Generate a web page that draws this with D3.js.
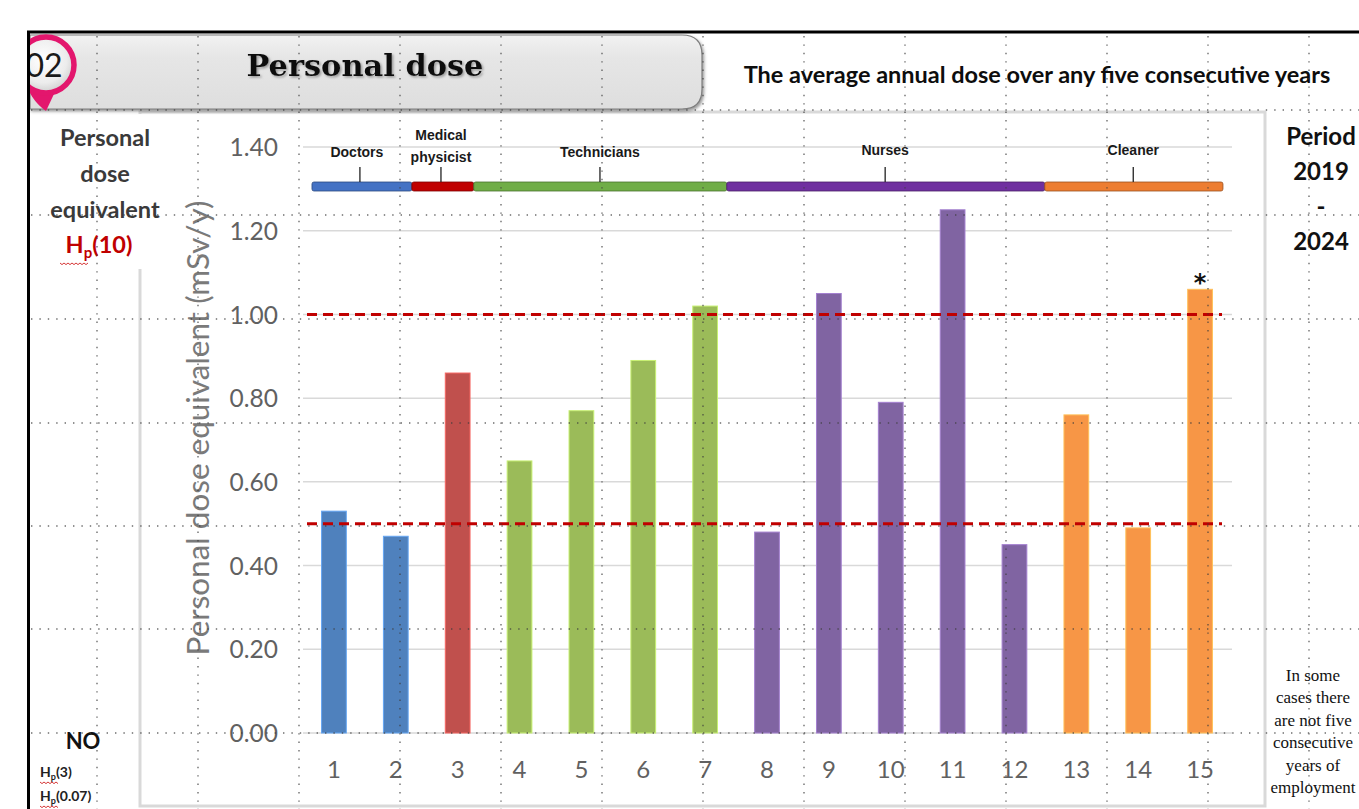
<!DOCTYPE html>
<html>
<head>
<meta charset="utf-8">
<script src="https://cdn.jsdelivr.net/npm/d3@7"></script>
<style>
  html, body { margin: 0; padding: 0; background: #fff; overflow: hidden; }
  svg { display: block; }
</style>
</head>
<body>
<svg id="chart" width="1359" height="809"></svg>
<script>
// ---- data ---------------------------------------------------------------
const workerIds = ["1","2","3","4","5","6","7","8","9","10","11","12","13","14","15"];
const doseValues = [0.53, 0.47, 0.86, 0.65, 0.77, 0.89, 1.02, 0.48, 1.05, 0.79, 1.25, 0.45, 0.76, 0.49, 1.06];
const workerGroups = ["Doctors","Doctors","Medical physicist","Technicians","Technicians","Technicians","Technicians",
                      "Nurses","Nurses","Nurses","Nurses","Nurses","Cleaner","Cleaner","Cleaner"];
const groupNames = ["Doctors", "Medical physicist", "Technicians", "Nurses", "Cleaner"];
const groupLabelLines = [["Doctors"], ["Medical", "physicist"], ["Technicians"], ["Nurses"], ["Cleaner"]];
const barColors = ["#4f81bd", "#c0504d", "#9bbb59", "#8064a2", "#f79646"];
const bracketColors = ["#4472c4", "#c00000", "#70ad47", "#7030a0", "#ed7d31"];
const yTickValues = [0, 0.2, 0.4, 0.6, 0.8, 1.0, 1.2, 1.4];
const referenceLevels = [1.0, 0.5];
const flaggedWorkers = ["15"];

// ---- layout -------------------------------------------------------------
const W = 1359, H = 809;
const plot = { left: 303, right: 1231, top: 147, bottom: 733 };
// bracket extents and label anchors, in units of bar slots from the plot's left edge
const bracketSpans = [[0.145, 1.76], [1.76, 2.76], [2.76, 6.85], [6.85, 11.99], [11.99, 14.87]];
const bracketAnchors = [0.92, 2.23, 4.8, 9.41, 13.42];

const svg = d3.select("#chart");
const defs = svg.append("defs");

const x = d3.scaleBand().domain(workerIds).range([plot.left, plot.right]).paddingInner(0.6).paddingOuter(0.3);
const y = d3.scaleLinear().domain([0, 1.4]).range([plot.bottom, plot.top]);
const slot = d3.scaleLinear().domain([0, workerIds.length]).range([plot.left, plot.right]);
const groupColor = d3.scaleOrdinal().domain(groupNames).range(barColors);

function fitWidth(sel, width) {
  const size = parseFloat(sel.style("font-size"));
  const len = sel.node().getComputedTextLength();
  sel.style("font-size", (size * width / len) + "px");
  return sel;
}

// ---- chart area frame ---------------------------------------------------
svg.append("rect")
  .attr("x", 140).attr("y", 112).attr("width", 1125).attr("height", 694)
  .attr("fill", "#fff").attr("stroke", "#d9d9d9").attr("stroke-width", 3);

// horizontal value gridlines
svg.append("g").selectAll("line").data(yTickValues).join("line")
  .attr("x1", plot.left).attr("x2", plot.right + 1)
  .attr("y1", d => y(d)).attr("y2", d => y(d))
  .attr("stroke", "#d9d9d9").attr("stroke-width", 1.5);

// bars
svg.append("g").selectAll("rect").data(doseValues).join("rect")
  .attr("x", (d, i) => x(workerIds[i]))
  .attr("width", x.bandwidth())
  .attr("y", d => y(d))
  .attr("height", d => y(0) - y(d))
  .attr("fill", (d, i) => groupColor(workerGroups[i]))
  .attr("stroke", (d, i) => d3.color(groupColor(workerGroups[i])).brighter(0.7))
  .attr("stroke-width", 1);

// reference dose levels
svg.append("g").selectAll("line").data(referenceLevels).join("line")
  .attr("x1", plot.left + 4).attr("x2", plot.right - 9)
  .attr("y1", d => y(d)).attr("y2", d => y(d))
  .attr("stroke", "#c00000").attr("stroke-width", 3)
  .attr("stroke-dasharray", "10 6");

// flag marker above bars
svg.append("g").selectAll("text").data(flaggedWorkers).join("text")
  .attr("x", d => x(d) + x.bandwidth() / 2)
  .attr("y", d => y(doseValues[workerIds.indexOf(d)]) + 2)
  .attr("text-anchor", "middle")
  .style("font-family", "'DejaVu Sans', sans-serif").style("font-weight", 700).style("font-size", "24px")
  .attr("fill", "#111").text("*");

// y axis labels
const yAxis = d3.axisLeft(y).tickValues(yTickValues).tickFormat(d3.format(".2f")).tickSize(0).tickPadding(0);
const yAxisG = svg.append("g").attr("transform", `translate(278,0)`).call(yAxis);
yAxisG.select(".domain").remove();
yAxisG.selectAll("text")
  .style("font-family", "Lato, sans-serif").style("font-size", "24.5px")
  .attr("fill", "#616161").attr("dy", "0.35em");

// x axis labels
const xAxis = d3.axisBottom(x).tickSize(0).tickPadding(0);
const xAxisG = svg.append("g").attr("transform", `translate(0,${plot.bottom})`).call(xAxis);
xAxisG.select(".domain").remove();
xAxisG.selectAll("text")
  .attr("y", 37).attr("dy", "0.35em")
  .style("font-family", "Lato, sans-serif").style("font-size", "24px")
  .attr("fill", "#616161");

// y axis title
const yTitle = svg.append("text")
  .attr("transform", "translate(209,428) rotate(-90)")
  .attr("text-anchor", "middle")
  .style("font-family", "Lato, sans-serif").style("font-size", "24px")
  .attr("fill", "#7a7a7a")
  .text("Personal dose equivalent (mSv/y)");
fitWidth(yTitle, 455);

// ---- group brackets ----------------------------------------------------
const bracketG = svg.append("g");
groupNames.forEach((g, i) => {
  const [a, b] = bracketSpans[i];
  bracketG.append("rect")
    .attr("x", slot(a)).attr("y", 182).attr("width", slot(b) - slot(a)).attr("height", 9)
    .attr("rx", 2)
    .attr("fill", bracketColors[i])
    .attr("stroke", d3.color(bracketColors[i]).darker(1.2)).attr("stroke-width", 0.8);
  const cx = slot(bracketAnchors[i]);
  bracketG.append("line")
    .attr("x1", cx).attr("x2", cx).attr("y1", 167).attr("y2", 182)
    .attr("stroke", "#222").attr("stroke-width", 1.3);
  const lines = groupLabelLines[i];
  lines.forEach((t, k) => {
    bracketG.append("text")
      .attr("x", cx + (i === 0 ? -3 : 0))
      .attr("y", lines.length === 1 ? (i === 0 || i === 2 ? 157 : 155) : 140 + k * 22)
      .attr("text-anchor", "middle")
      .style("font-family", "'Liberation Sans Narrow', 'Liberation Sans', sans-serif")
      .style("font-weight", 700).style("font-size", "14px")
      .attr("fill", "#1a1a1a").text(t);
  });
});

// ---- side text boxes ------------------------------------------------------
svg.append("rect").attr("x", 29).attr("y", 114).attr("width", 137).attr("height", 155).attr("fill", "#fff");

const sideFont = "Lato, sans-serif";
function wavy(x0, x1, yy) {
  let p = `M${x0},${yy}`;
  for (let xx = x0, k = 0; xx < x1; xx += 2, k++) p += ` L${xx + 2},${yy + (k % 2 ? 0 : 1.6)}`;
  svg.append("path").attr("d", p).attr("fill", "none").attr("stroke", "#d02020").attr("stroke-width", 0.9);
}

const leftLines = ["Personal", "dose", "equivalent"];
leftLines.forEach((t, i) => {
  svg.append("text").attr("x", 105).attr("y", 146 + i * 36)
    .attr("text-anchor", "middle")
    .style("font-family", sideFont).style("font-weight", 700).style("font-size", "23.5px")
    .attr("fill", "#3a3a3a").text(t);
});
const hp10 = svg.append("text").attr("x", 99).attr("y", 253).attr("text-anchor", "middle")
  .style("font-family", sideFont).style("font-weight", 700).style("font-size", "23.5px").attr("fill", "#c00000");
hp10.append("tspan").text("H");
hp10.append("tspan").attr("dy", 5).style("font-size", "15px").text("p");
hp10.append("tspan").attr("dy", -5).text("(10)");
wavy(60, 88, 263);

const periodLines = ["Period", "2019", "-", "2024"];
periodLines.forEach((t, i) => {
  svg.append("text").attr("x", 1321).attr("y", 145 + i * 35)
    .attr("text-anchor", "middle")
    .style("font-family", sideFont).style("font-weight", 700).style("font-size", "24px")
    .attr("fill", "#111").text(t);
});

svg.append("text").attr("x", 83).attr("y", 749).attr("text-anchor", "middle")
  .style("font-family", sideFont).style("font-weight", 700).style("font-size", "22px")
  .attr("fill", "#111").text("NO");
[["(3)", 777], ["(0.07)", 801]].forEach(([t, yy]) => {
  const tx = svg.append("text").attr("x", 40).attr("y", yy)
    .style("font-family", sideFont).style("font-weight", 700).style("font-size", "14px").attr("fill", "#222");
  tx.append("tspan").text("H");
  tx.append("tspan").attr("dy", 3).style("font-size", "9px").text("p");
  tx.append("tspan").attr("dy", -3).text(t);
  wavy(40, 57, yy + 5);
});

const noteLines = ["In some", "cases there", "are not five", "consecutive", "years of", "employment"];
noteLines.forEach((t, i) => {
  svg.append("text").attr("x", 1313).attr("y", 681 + i * 22.4)
    .attr("text-anchor", "middle")
    .style("font-family", "'Liberation Serif', serif").style("font-size", "17px")
    .attr("fill", "#111").text(t);
});

// ---- header ---------------------------------------------------------------
const grad = defs.append("linearGradient").attr("id", "hdrGrad").attr("x1", 0).attr("x2", 0).attr("y1", 0).attr("y2", 1);
grad.append("stop").attr("offset", "0%").attr("stop-color", "#f2f2f2");
grad.append("stop").attr("offset", "30%").attr("stop-color", "#e6e6e6");
grad.append("stop").attr("offset", "100%").attr("stop-color", "#dedede");
const shadow = defs.append("filter").attr("id", "hdrShadow").attr("x", "-5%").attr("y", "-20%").attr("width", "110%").attr("height", "150%");
shadow.append("feDropShadow").attr("dx", 1.5).attr("dy", 2).attr("stdDeviation", 1.5).attr("flood-color", "#555").attr("flood-opacity", 0.6);

const hx0 = 30, hx1 = 702, hy0 = 35, hy1 = 109, r = 20;
svg.append("path")
  .attr("d", `M${hx0},${hy0} L${hx1 - r},${hy0} Q${hx1},${hy0} ${hx1},${hy0 + r} L${hx1},${hy1 - r} Q${hx1},${hy1} ${hx1 - r},${hy1} L${hx0},${hy1} Z`)
  .attr("fill", "url(#hdrGrad)").attr("stroke", "#7d7d7d").attr("stroke-width", 1.2)
  .attr("filter", "url(#hdrShadow)");

const titleShadow = defs.append("filter").attr("id", "titleShadow");
titleShadow.append("feDropShadow").attr("dx", 1.5).attr("dy", 1.5).attr("stdDeviation", 1).attr("flood-color", "#777").attr("flood-opacity", 0.7);
const title = svg.append("text").attr("x", 365).attr("y", 76).attr("text-anchor", "middle")
  .style("font-family", "'DejaVu Serif', serif").style("font-weight", 700).style("font-size", "29px")
  .attr("fill", "#111").attr("filter", "url(#titleShadow)")
  .text("Personal dose");
fitWidth(title, 237);

// numbered badge
const badgeGrad = defs.append("radialGradient").attr("id", "badgeGrad").attr("cx", "45%").attr("cy", "40%").attr("r", "60%");
badgeGrad.append("stop").attr("offset", "0%").attr("stop-color", "#ffffff");
badgeGrad.append("stop").attr("offset", "70%").attr("stop-color", "#ececec");
badgeGrad.append("stop").attr("offset", "100%").attr("stop-color", "#cfcfcf");
svg.append("path")
  .attr("d", "M24,78 Q30,100 46,111 L54,94 Z")
  .attr("fill", "#e3166d");
svg.append("circle").attr("cx", 46).attr("cy", 65).attr("r", 28)
  .attr("fill", "url(#badgeGrad)").attr("stroke", "#e3166d").attr("stroke-width", 5.5);
svg.append("text").attr("x", 44).attr("y", 77).attr("text-anchor", "middle")
  .style("font-family", "Lato, sans-serif").style("font-size", "32px")
  .attr("fill", "#1a1a1a").text("02");

const subtitle = svg.append("text").attr("x", 1037).attr("y", 83).attr("text-anchor", "middle")
  .style("font-family", sideFont).style("font-weight", 700).style("font-size", "21px")
  .attr("fill", "#0d0d0d").text("The average annual dose over any five consecutive years");
fitWidth(subtitle, 587);

// ---- sheet edges -----------------------------------------------------------
svg.append("rect").attr("x", 0).attr("y", 0).attr("width", 27).attr("height", H).attr("fill", "#fff");
svg.append("rect").attr("x", 0).attr("y", 0).attr("width", W).attr("height", 31).attr("fill", "#fff");
svg.append("line").attr("x1", 27).attr("x2", W).attr("y1", 32).attr("y2", 32).attr("stroke", "#000").attr("stroke-width", 3);
svg.append("line").attr("x1", 28.5).attr("x2", 28.5).attr("y1", 31).attr("y2", H).attr("stroke", "#000").attr("stroke-width", 3);

// dotted cell gridlines of the sheet
const cellCols = d3.range(97, W, 101);
const cellRows = [110, 215, 319, 423, 526, 629, 733];
const dots = svg.append("g").attr("stroke", "#3c3c3c").attr("stroke-width", 1.4)
  .attr("stroke-dasharray", "1.4 7").attr("opacity", 0.75);
dots.selectAll("line.v").data(cellCols).join("line").attr("class", "v")
  .attr("x1", d => d).attr("x2", d => d).attr("y1", 36).attr("y2", H);
dots.selectAll("line.h").data(cellRows).join("line").attr("class", "h")
  .attr("x1", 31).attr("x2", W).attr("y1", d => d).attr("y2", d => d);
</script>
</body>
</html>
